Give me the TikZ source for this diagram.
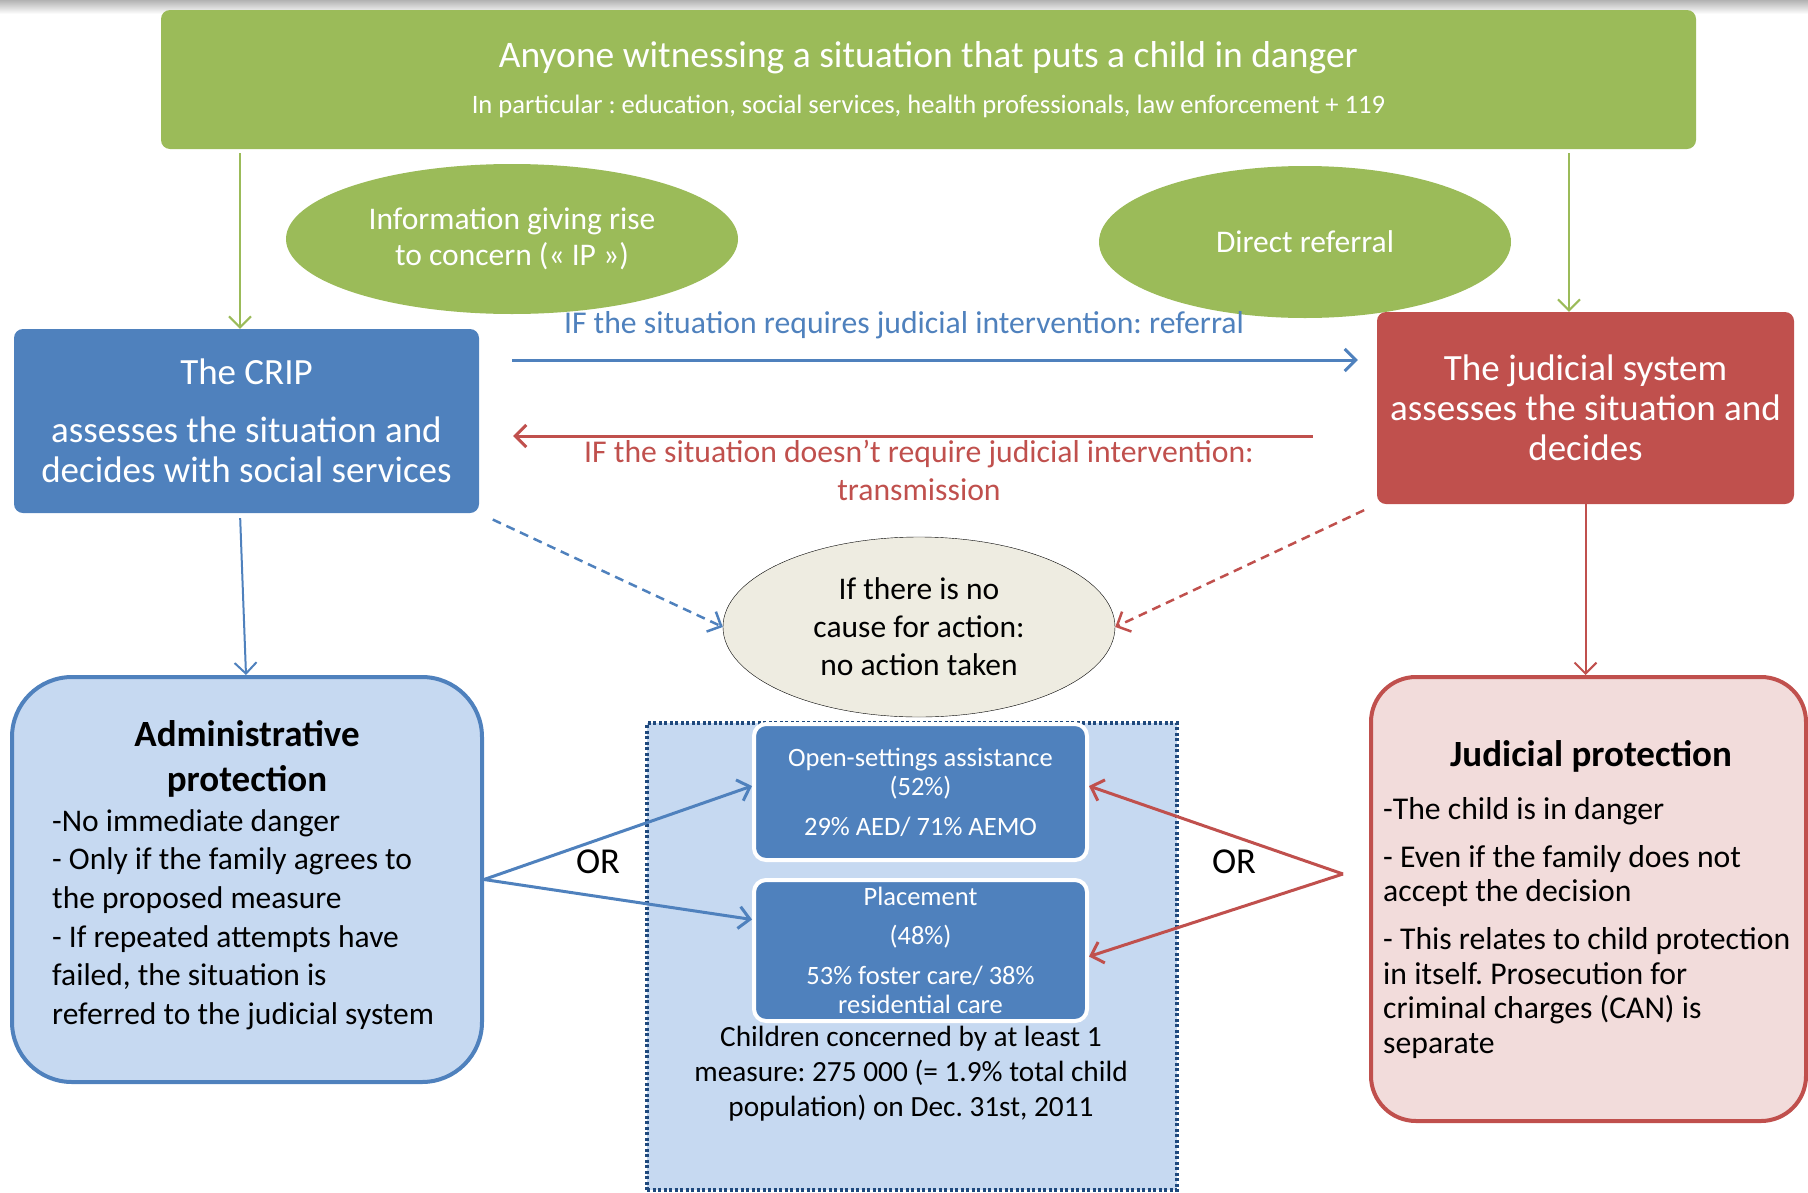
\documentclass[tikz,border=0pt]{standalone}
\usepackage{fontspec}
\setmainfont{Carlito}
\usetikzlibrary{arrows.meta,shapes.geometric,positioning}
\definecolor{grn}{HTML}{9BBB59}
\definecolor{blu}{HTML}{4F81BD}
\definecolor{rd}{HTML}{C0504D}
\definecolor{lblu}{HTML}{C6D9F1}
\definecolor{lrd}{HTML}{F2DCDB}
\definecolor{beige}{HTML}{EEECE1}
\definecolor{dblu}{HTML}{1F497D}
\newcommand{\fs}[2]{\fontsize{#1}{#2}\selectfont}
\frenchspacing

\begin{document}
\begin{tikzpicture}[x=1pt,y=-1pt,
    box/.style={rectangle, rounded corners=9pt, text=white, align=center, inner sep=0pt},
    bubble/.style={ellipse, fill=grn, text=white, align=center, inner sep=0pt, font=\fs{31.5}{36}},
    panel/.style={rectangle, line width=4pt, inner sep=0pt},
    sub/.style={rectangle, rounded corners=12pt, fill=blu, draw=white, line width=4pt, text=white, align=center, inner sep=0pt, minimum width=333pt, font=\fs{26.5}{29}},
    txt/.style={inner sep=0pt},
    tip/.style={-{Straight Barb[length=11pt,width=22pt]}}]
  \useasboundingbox (0,0) rectangle (1808,1192);
  \clip (0,0) rectangle (1808,1192);
  \shade[top color=black!30, bottom color=white] (0,0) rectangle (1808,14);

  % who reports
  \node[box, fill=grn, minimum width=1535pt, minimum height=139pt, font=\fs{26.6}{45.5}] (top) at (928.5,79.5)
    {{\fs{37.5}{45}Anyone witnessing a situation that puts a child in danger}\\In particular : education, social services, health professionals, law enforcement + 119};
  \node[bubble, minimum width=452pt, minimum height=150pt] (ip) at (512,239) {Information giving rise\\to concern (« IP »)};
  \node[bubble, minimum width=412pt, minimum height=152pt] (dr) at (1305,242) {Direct referral};

  % who assesses
  \node[box, fill=blu, minimum width=465pt, minimum height=184pt, font=\fs{37}{40}] (crip) at (246.5,421)
    {The CRIP\\[18pt]assesses the situation and\\decides with social services};
  \node[box, fill=rd, minimum width=417pt, minimum height=192pt, font=\fs{37}{40}] (judge) at (1585.5,408)
    {The judicial system\\assesses the situation and\\decides};
  \node[ellipse, draw, fill=beige, align=center, inner sep=0pt, minimum width=392pt, minimum height=180pt, font=\fs{31.5}{38}] (none) at (919,627)
    {If there is no\\cause for action:\\no action taken};
  \node[txt, text=blu, font=\fs{31.7}{38}] (refl) at (904,325) {IF the situation requires judicial intervention: referral};
  \node[txt, text=rd, align=center, font=\fs{31.7}{38}] (trl) at (919,470) {IF the situation doesn’t require judicial intervention:\\transmission};

  % protection
  \node[panel, draw=blu, fill=lblu, rounded corners=60pt, minimum width=470pt, minimum height=405pt] (adm) at (247,879.5) {};
  \node[panel, draw=rd, fill=lrd, rounded corners=45pt, minimum width=435pt, minimum height=444pt] (jp) at (1588.5,899) {};
  \node[txt, align=center, font=\bfseries\fs{37}{45}] (admt) at (247,758.5) {Administrative\\protection};
  \node[txt, anchor=west, align=left, font=\fs{31.5}{38.7}] (admb) at (52,919.5)
    {-No immediate danger\\- Only if the family agrees to\\the proposed measure\\- If repeated attempts have\\failed, the situation is\\referred to the judicial system};
  \node[txt, font=\bfseries\fs{37}{45}] (jpt) at (1591,756) {Judicial protection};
  \node[txt, anchor=west, align=left, font=\fs{31.7}{34.5}] (jpb) at (1383,928)
    {-The child is in danger\\[13.5pt]- Even if the family does not\\accept the decision\\[13.5pt]- This relates to child protection\\in itself. Prosecution for\\criminal charges (CAN) is\\separate};

  % measures
  \node[rectangle, fill=lblu, draw=dblu, line width=3.5pt, dash pattern=on 3pt off 2.5pt, minimum width=530pt, minimum height=467pt] (meas) at (912,956.5) {};
  \node[sub, minimum height=136pt] (open) at (920.5,792) {Open-settings assistance\\(52\%)\\[11pt]29\% AED/ 71\% AEMO};
  \node[sub, minimum height=141pt] (plac) at (920.5,950.5) {Placement\\[10pt](48\%)\\[11pt]53\% foster care/ 38\%\\residential care};
  \node[txt, align=center, font=\fs{29.3}{35}] (count) at (911,1074)
    {Children concerned by at least 1\\measure: 275 000 (= 1.9\% total child\\population) on Dec. 31st, 2011};

  % arrows
  \draw[tip, grn, line width=2pt, shorten <=4pt] (top.south -| 240,0) -- (crip.north -| 240,0);
  \draw[tip, grn, line width=2pt, shorten <=4pt] (top.south -| 1569,0) -- (judge.north -| 1569,0);
  \draw[tip, blu, line width=3pt, shorten <=33pt, shorten >=19pt] (crip.east |- 0,360) -- (judge.west |- 0,360);
  \draw[tip, rd, line width=3pt, shorten <=64pt, shorten >=34pt] (judge.west |- 0,436) -- (crip.east |- 0,436);
  \draw[tip, blu, line width=2pt, shorten <=5pt] (crip.south -| 240,0) -- (adm.north -| 246,0);
  \draw[tip, rd, line width=2pt] (judge.south) -- (judge.south |- jp.north);
  \draw[tip, blu, line width=2.5pt, dash pattern=on 9pt off 6pt, shorten <=15pt] (crip.south east) -- (none.west);
  \draw[tip, rd, line width=2.5pt, dash pattern=on 9pt off 6pt, shorten <=14pt] (judge.south west) -- (none.east);
  \coordinate (fork) at (1343,874);
  \draw[tip, blu, line width=3pt] (adm.east) -- ([yshift=6pt]open.west);
  \draw[tip, blu, line width=3pt] (adm.east) -- ([yshift=31pt]plac.west);
  \draw[tip, rd, line width=3pt] (fork) -- ([yshift=6pt]open.east);
  \draw[tip, rd, line width=3pt] (fork) -- ([yshift=-6pt]plac.east);
  \node[txt, font=\fs{36.5}{40}] (or1) at (598,862) {OR};
  \node[txt, font=\fs{36.5}{40}] (or2) at (1234,862) {OR};
\end{tikzpicture}
\end{document}
